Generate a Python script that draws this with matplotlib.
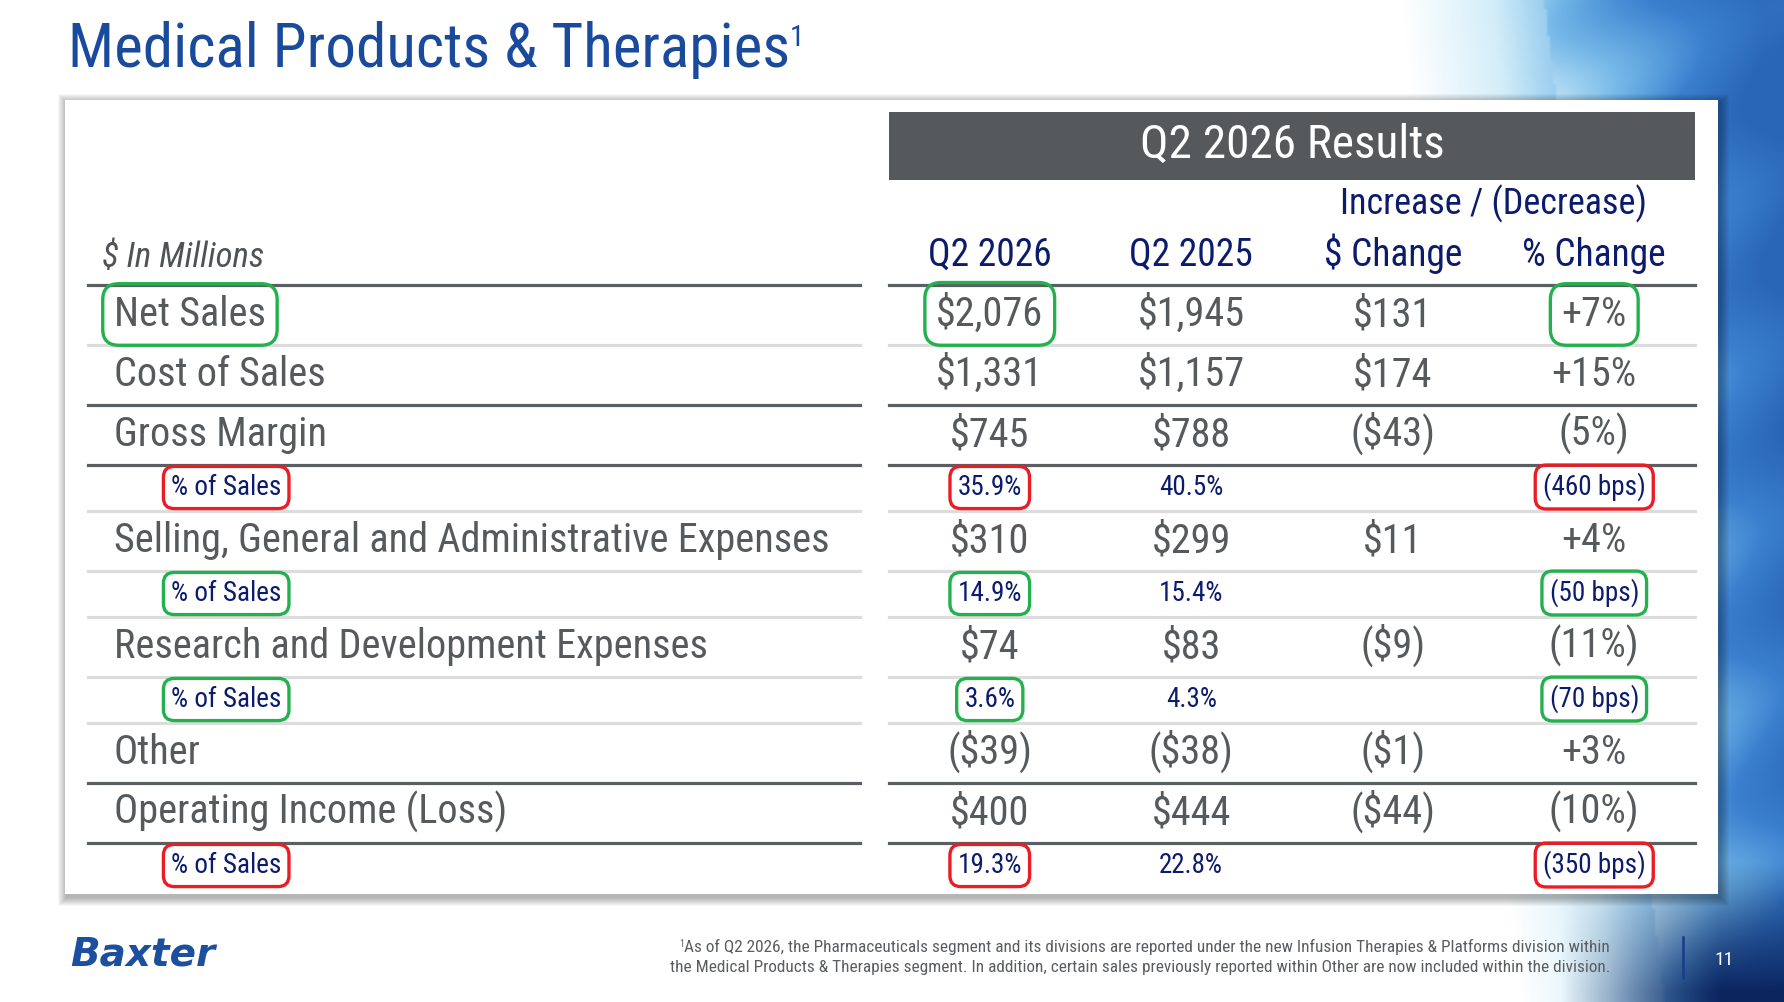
import numpy as np
import matplotlib
matplotlib.use('Agg')
import matplotlib.pyplot as plt
from matplotlib import font_manager as fm
from matplotlib.colors import LinearSegmentedColormap, to_rgb
from matplotlib.patches import Rectangle

# table content
row_labels = ['Net Sales', 'Cost of Sales', 'Gross Margin', '% of Sales',
              'Selling, General and Administrative Expenses', '% of Sales',
              'Research and Development Expenses', '% of Sales', 'Other',
              'Operating Income (Loss)', '% of Sales']
q2_2026 = ['$2,076', '$1,331', '$745', '35.9%', '$310', '14.9%', '$74', '3.6%',
           '($39)', '$400', '19.3%']
q2_2025 = ['$1,945', '$1,157', '$788', '40.5%', '$299', '15.4%', '$83', '4.3%',
           '($38)', '$444', '22.8%']
dollar_change = ['$131', '$174', '($43)', '', '$11', '', '($9)', '', '($1)',
                 '($44)', '']
pct_change = ['+7%', '+15%', '(5%)', '(460 bps)', '+4%', '(50 bps)', '(11%)',
              '(70 bps)', '+3%', '(10%)', '(350 bps)']
col_labels = ['Q2 2026', 'Q2 2025', '$ Change', '% Change']
subtotal_rows = ['Gross Margin', 'Operating Income (Loss)']
# (row, column) -> ring colour, column -1 is the label
green_marks = [(0, -1), (0, 0), (0, 3), (5, -1), (5, 0), (5, 3), (7, -1), (7, 0), (7, 3)]
red_marks = [(3, -1), (3, 0), (3, 3), (10, -1), (10, 0), (10, 3)]

title = 'Medical Products & Therapies'
footnote = ['As of Q2 2026, the Pharmaceuticals segment and its divisions are reported under the new Infusion Therapies & Platforms division within',
            'the Medical Products & Therapies segment. In addition, certain sales previously reported within Other are now included within the division.']


def pick(names):
    for n in names:
        try:
            fm.findfont(fm.FontProperties(family=n), fallback_to_default=False)
            return n
        except ValueError:
            pass
    return 'DejaVu Sans'


FONT = pick(['Liberation Sans Narrow', 'Roboto Condensed', 'Open Sans Condensed', 'Roboto', 'Lato'])
plt.rcParams['font.family'] = [FONT, 'DejaVu Sans']

W, H = 1784, 1002
fig = plt.figure(figsize=(W / 100, H / 100), dpi=100)
ax = fig.add_axes([0, 0, 1, 1])
ax.set_xlim(0, W)
ax.set_ylim(H, 0)
ax.axis('off')

# blue swoosh background on the right
yy, xx = np.mgrid[0:H:3, 0:W:3].astype(float)
s = np.clip((xx - 1400 - 0.12 * yy) / 360, 0, 1)
s = s + 0.08 * np.sin((xx + 2.2 * yy) / 60.0) * (s > 0.4)
cmap = LinearSegmentedColormap.from_list('bg', ['#ffffff', '#d4eef9', '#74b8e8', '#3a80cf', '#2a66b8'])
rgb = cmap(np.clip(s, 0, 1))[..., :3]
dark = np.clip((yy - 860) / 130, 0, 1) * np.clip((xx - 1560) / 160, 0, 1)
navy = np.array(to_rgb('#0b255f'))
rgb = rgb * (1 - dark[..., None]) + navy * dark[..., None]
ax.imshow(rgb, extent=[0, W, H, 0], aspect='auto', zorder=0, interpolation='bilinear')

# panel with soft shadow
px0, py0, px1, py1 = 65, 100, 1718, 894
for k in range(1, 10):
    ax.add_patch(Rectangle((px0 - k + 2, py0 - k + 3), px1 - px0 + 2 * k, py1 - py0 + 2 * k,
                           fc='black', ec='none', alpha=0.035, zorder=1))
ax.add_patch(Rectangle((px0, py0), px1 - px0, py1 - py0, fc='white', ec='none', zorder=2))

# title
t = ax.text(68, 67, title, fontsize=44, color='#1a4a9c', va='baseline', zorder=5)
ax.annotate('1', xy=(1, 0.95), xycoords=t, fontsize=21, color='#1a4a9c',
            ha='left', va='top', zorder=5)

# header block
hx0, hx1 = 889, 1695
ax.add_patch(Rectangle((hx0, 112), hx1 - hx0, 68, fc='#55595c', ec='none', zorder=3))
ax.text((hx0 + hx1) / 2, 158, 'Q2 2026 Results', fontsize=34, color='white',
        ha='center', va='baseline', zorder=5)
col_w = (hx1 - hx0) / len(col_labels)
col_x = [hx0 + col_w * (i + 0.5) for i in range(len(col_labels))]
navy_txt = '#0c1c6c'
ax.text((col_x[2] + col_x[3]) / 2, 214, 'Increase / (Decrease)', fontsize=26,
        color=navy_txt, ha='center', va='baseline', zorder=5)
for x, lab in zip(col_x, col_labels):
    ax.text(x, 266, lab, fontsize=27, color=navy_txt, ha='center', va='baseline', zorder=5)
ax.text(102, 267, '$ In Millions', fontsize=25, color='#505356', style='italic',
        va='baseline', zorder=5)

# rows
lx0, lx1 = 88, 860
dark_line, light_line = '#5a5f63', '#dcdcdc'
gray_txt = '#575a5d'
green, red = '#22b14c', '#ec1c24'
marks = {rc: green for rc in green_marks}
marks.update({rc: red for rc in red_marks})

y = 285
ax.plot([lx0, lx1], [y, y], color=dark_line, lw=2.3, zorder=4)
ax.plot([hx0, hx1], [y, y], color=dark_line, lw=2.3, zorder=4)
for i, lab in enumerate(row_labels):
    small = lab == '% of Sales'
    h = 46 if small else 60
    cy = y + h / 2
    if small:
        fs, base, color, lx = 19.5, cy + 7, navy_txt, 171
    else:
        fs, base, color, lx = 29, cy + 11, gray_txt, 114
    cells = [(-1, lx, lab, 'left')]
    for j, vals in enumerate([q2_2026, q2_2025, dollar_change, pct_change]):
        cells.append((j, col_x[j], vals[i], 'center'))
    for j, x, txt, ha in cells:
        if not txt:
            continue
        kw = {}
        if (i, j) in marks:
            kw['bbox'] = dict(boxstyle='round,pad=0.28,rounding_size=0.4', fc='none',
                              ec=marks[(i, j)], lw=2.4)
        ax.text(x, base, txt, fontsize=fs, color=color, ha=ha, va='baseline', zorder=6, **kw)
    y = y + h
    if i == len(row_labels) - 1:
        break
    nxt = row_labels[i + 1]
    heavy = lab in subtotal_rows or nxt in subtotal_rows
    c = dark_line if heavy else light_line
    ax.plot([lx0, lx1], [y, y], color=c, lw=2.3, zorder=4)
    ax.plot([hx0, hx1], [y, y], color=c, lw=2.3, zorder=4)

# footer
ax.text(70, 966, 'Baxter', fontsize=28, color='#1c4f9f', weight='heavy', style='italic',
        family='DejaVu Sans', va='baseline', zorder=5)
f1 = ax.text(1610, 952, footnote[0], fontsize=12.4, color='#5a5d60', ha='right',
             va='baseline', zorder=5)
ax.annotate('1', xy=(0, 1), xycoords=f1, fontsize=7, color='#5a5d60', ha='right',
            va='top', zorder=5)
ax.text(1610, 972, footnote[1], fontsize=12.4, color='#5a5d60', ha='right',
        va='baseline', zorder=5)
ax.plot([1683, 1683], [937, 978], color='#1a3a8a', lw=1.8, zorder=5)
ax.text(1724, 965, '11', fontsize=14, color='white', ha='center', va='baseline', zorder=5)

fig.savefig('out.png', dpi=100)
